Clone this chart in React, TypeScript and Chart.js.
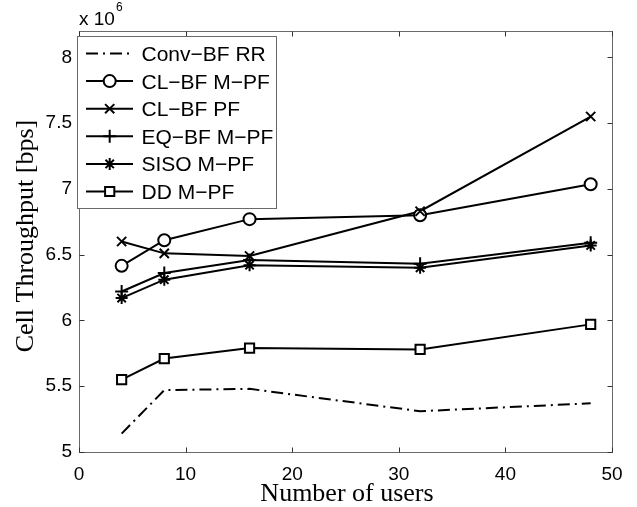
import React, { useEffect, useRef } from 'react';
import { Chart, registerables } from 'chart.js';

Chart.register(...registerables);

const users = [4, 8, 16, 32, 48];
const convBfRR = [5.14, 5.47, 5.48, 5.31, 5.37];
const clBfMPF = [6.415, 6.61, 6.77, 6.8, 7.035];
const clBfPF = [6.6, 6.51, 6.49, 6.83, 7.55];
const eqBfMPF = [6.22, 6.36, 6.46, 6.43, 6.59];
const sisoMPF = [6.17, 6.31, 6.42, 6.4, 6.57];
const ddMPF = [5.55, 5.71, 5.79, 5.78, 5.97];
const seriesNames = ['Conv−BF RR', 'CL−BF M−PF', 'CL−BF PF', 'EQ−BF M−PF', 'SISO M−PF', 'DD M−PF'];
const seriesValues = [convBfRR, clBfMPF, clBfPF, eqBfMPF, sisoMPF, ddMPF];
const markerStyles = ['none', 'circle', 'crossRot', 'cross', 'star', 'rect'];
const xTicks = [0, 10, 20, 30, 40, 50];
const yTicks = [5, 5.5, 6, 6.5, 7, 7.5, 8];

const SANS = '"Liberation Sans", Arial, Helvetica, sans-serif';
const SERIF = '"Liberation Serif", "Times New Roman", serif';
const DASHDOT = [12, 5, 2, 5];

function drawMarker(ctx: CanvasRenderingContext2D, style: string, x: number, y: number) {
  ctx.save();
  ctx.strokeStyle = '#000';
  ctx.fillStyle = '#fff';
  ctx.lineWidth = 2;
  ctx.setLineDash([]);
  ctx.beginPath();
  if (style === 'circle') {
    ctx.arc(x, y, 6, 0, Math.PI * 2);
    ctx.fill();
    ctx.stroke();
  } else if (style === 'rect') {
    ctx.rect(x - 4.6, y - 4.6, 9.2, 9.2);
    ctx.fill();
    ctx.stroke();
  } else if (style === 'cross') {
    ctx.moveTo(x - 6.5, y); ctx.lineTo(x + 6.5, y);
    ctx.moveTo(x, y - 6.5); ctx.lineTo(x, y + 6.5);
    ctx.stroke();
  } else if (style === 'crossRot') {
    const d = 4.6;
    ctx.moveTo(x - d, y - d); ctx.lineTo(x + d, y + d);
    ctx.moveTo(x - d, y + d); ctx.lineTo(x + d, y - d);
    ctx.stroke();
  } else if (style === 'star') {
    const d = 4.2;
    ctx.moveTo(x - 6, y); ctx.lineTo(x + 6, y);
    ctx.moveTo(x, y - 6); ctx.lineTo(x, y + 6);
    ctx.moveTo(x - d, y - d); ctx.lineTo(x + d, y + d);
    ctx.moveTo(x - d, y + d); ctx.lineTo(x + d, y - d);
    ctx.stroke();
  }
  ctx.restore();
}

const framePlugin = {
  id: 'matlabFrame',
  afterDatasetsDraw(chart: any) {
    const { ctx, chartArea: a, scales } = chart;
    const xs = scales.x;
    const ys = scales.y;
    // markers
    chart.data.datasets.forEach((ds: any, i: number) => {
      const st = markerStyles[i];
      if (st === 'none') return;
      const meta = chart.getDatasetMeta(i);
      meta.data.forEach((pt: any) => drawMarker(ctx, st, pt.x, pt.y));
    });
    ctx.save();
    // box
    const L = Math.round(a.left) + 0.5;
    const R = Math.round(a.right) + 0.5;
    const T = Math.round(a.top) + 0.5;
    const B = Math.round(a.bottom) + 0.5;
    ctx.strokeStyle = '#6a6a6a';
    ctx.lineWidth = 1;
    ctx.setLineDash([]);
    ctx.strokeRect(L, T, R - L, B - T);
    // ticks
    ctx.strokeStyle = '#333';
    ctx.beginPath();
    xTicks.forEach((v) => {
      const px = Math.round(xs.getPixelForValue(v)) + 0.5;
      ctx.moveTo(px, B); ctx.lineTo(px, B - 5);
      ctx.moveTo(px, T); ctx.lineTo(px, T + 5);
    });
    yTicks.forEach((v) => {
      const py = Math.round(ys.getPixelForValue(v)) + 0.5;
      ctx.moveTo(L, py); ctx.lineTo(L + 5, py);
      ctx.moveTo(R, py); ctx.lineTo(R - 5, py);
    });
    ctx.stroke();

    // exponent label
    ctx.fillStyle = '#000';
    ctx.textAlign = 'left';
    ctx.textBaseline = 'alphabetic';
    ctx.font = `19px ${SANS}`;
    ctx.fillText('x 10', 79, 25);
    const w = ctx.measureText('x 10').width;
    ctx.font = `12px ${SANS}`;
    ctx.fillText('6', 79 + w + 1, 11);

    // axis titles
    ctx.font = `26px ${SERIF}`;
    ctx.textAlign = 'center';
    ctx.fillText('Number of users', 347, 501);
    ctx.save();
    ctx.translate(33, 236);
    ctx.rotate(-Math.PI / 2);
    ctx.fillText('Cell Throughput [bps]', 0, 0);
    ctx.restore();

    // legend
    const lx = 77.5, ly = 36.5, lw = 199, lh = 172;
    ctx.fillStyle = '#fff';
    ctx.fillRect(lx, ly, lw, lh);
    ctx.strokeStyle = '#6a6a6a';
    ctx.strokeRect(lx, ly, lw, lh);
    ctx.font = `21px ${SANS}`;
    ctx.textAlign = 'left';
    ctx.textBaseline = 'alphabetic';
    seriesNames.forEach((name, i) => {
      const ry = 53.5 + i * 27.6;
      ctx.strokeStyle = '#000';
      ctx.lineWidth = 2;
      ctx.setLineDash(i === 0 ? DASHDOT : []);
      ctx.beginPath();
      ctx.moveTo(86, ry);
      ctx.lineTo(133, ry);
      ctx.stroke();
      ctx.setLineDash([]);
      if (markerStyles[i] !== 'none') drawMarker(ctx, markerStyles[i], 109.7, ry);
      ctx.fillStyle = '#000';
      ctx.fillText(name, 141.5, ry + 7.5);
    });
    ctx.restore();
  },
};

export default function App() {
  const ref = useRef<HTMLCanvasElement | null>(null);
  useEffect(() => {
    if (!ref.current) return;
    const datasets = seriesValues.map((vals, i) => ({
      label: seriesNames[i],
      data: users.map((u, j) => ({ x: u, y: vals[j] })),
      borderColor: '#000',
      backgroundColor: '#000',
      borderWidth: 2,
      borderDash: i === 0 ? DASHDOT : [],
      pointRadius: 0,
      pointHoverRadius: 0,
      tension: 0,
      fill: false,
    }));
    const chart = new Chart(ref.current, {
      type: 'line',
      data: { datasets },
      options: {
        animation: false,
        responsive: false,
        devicePixelRatio: 1,
        layout: { padding: { top: 31, right: 25, left: 0, bottom: 0 } },
        plugins: { legend: { display: false }, tooltip: { enabled: false } },
        scales: {
          x: {
            type: 'linear',
            min: 0,
            max: 50,
            grid: { display: false, drawTicks: false },
            border: { display: false },
            ticks: {
              stepSize: 10,
              padding: 11,
              color: '#000',
              font: { family: SANS, size: 19 },
              maxRotation: 0,
            },
            afterFit: (s: any) => { s.height = 55; },
          },
          y: {
            type: 'linear',
            min: 5,
            max: 8.2,
            grid: { display: false, drawTicks: false },
            border: { display: false },
            ticks: {
              stepSize: 0.5,
              padding: 7,
              color: '#000',
              font: { family: SANS, size: 19 },
              callback: (v: any) => String(Math.round(Number(v) * 10) / 10),
            },
            afterBuildTicks: (s: any) => {
              s.ticks = s.ticks.filter((t: any) => yTicks.some((y) => Math.abs(y - t.value) < 1e-6));
            },
            afterFit: (s: any) => { s.width = 79; },
          },
        },
      },
      plugins: [framePlugin],
    });
    return () => chart.destroy();
  }, []);
  return (
    <div style={{ position: 'absolute', left: 0, top: 0, width: 637, height: 507, background: '#fff' }}>
      <canvas ref={ref} width={637} height={507} style={{ display: 'block' }} />
    </div>
  );
}
